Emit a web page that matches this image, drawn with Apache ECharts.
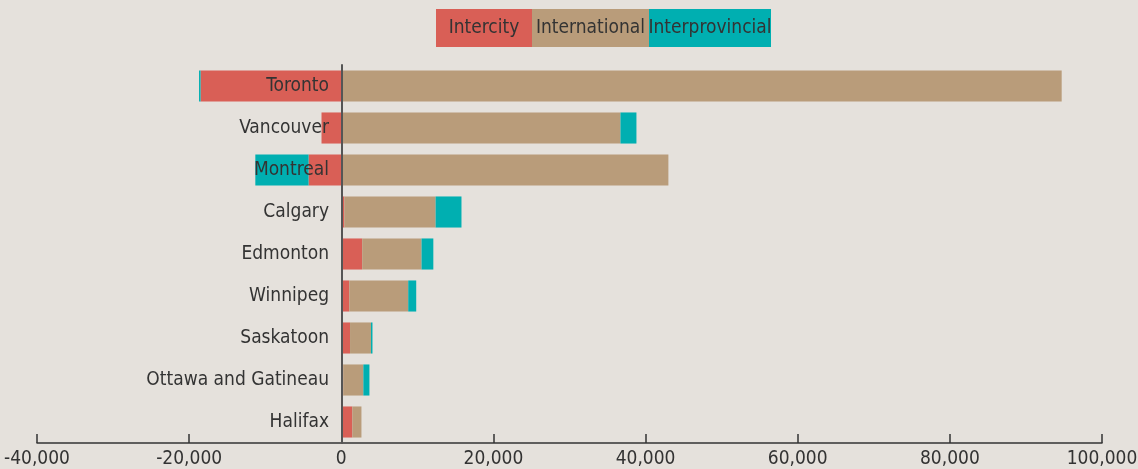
<!DOCTYPE html>
<html><head><meta charset="utf-8">
<style>html,body{margin:0;padding:0;background:#e5e1dc;}#c{width:1138px;height:469px;}</style>
<script src="https://cdn.jsdelivr.net/npm/echarts@6/dist/echarts.min.js"></script>
</head><body><div id="c"></div>
<script>
const categories = ["Toronto","Vancouver","Montreal","Calgary","Edmonton","Winnipeg","Saskatoon","Ottawa and Gatineau","Halifax"];
const intercity = [-18500,-2600,-4300,400,2750,1050,1150,250,1450];
const international = [94700,36700,43000,12000,7800,7750,2750,2650,1200];
const interprovincial = [-200,2100,-7000,3400,1550,1050,200,800,0];
const seriesNames = ["Intercity","International","Interprovincial"];
const colors = ["#d95f56","#b99c7a","#00afb1"];
const FONT = "'Liberation Sans Narrow','DejaVu Sans Condensed','Roboto Condensed',sans-serif";
const chart = echarts.init(document.getElementById('c'));
const legendWidths = [96,117,122];
const rich = {};
seriesNames.forEach((n,i)=>{ rich['s'+i] = {backgroundColor: colors[i], width: legendWidths[i], height: 38, lineHeight: 38, align: 'center', fontSize: 19, color: '#333', fontFamily: FONT}; });
chart.setOption({
  backgroundColor: '#e5e1dc',
  textStyle: {fontFamily: FONT},
  legend: {
    top: 4, left: 426, itemGap: -5, itemWidth: 0, itemHeight: 0, icon: 'rect',
    selectedMode: false,
    formatter: name => '{s' + seriesNames.indexOf(name) + '|' + name + '}',
    textStyle: {rich: rich},
    data: seriesNames
  },
  grid: {left: 37, right: 36, top: 65, bottom: 26, containLabel: false, outerBoundsMode: 'none'},
  xAxis: {
    type: 'value', min: -40000, max: 100000, interval: 20000,
    axisLine: {show: true, lineStyle: {color: '#333', width: 1.5}},
    axisTick: {show: true, inside: true, length: 9, lineStyle: {color: '#333', width: 1.5}},
    splitLine: {show: false},
    axisLabel: {color: '#333', fontSize: 19, margin: 7, fontFamily: FONT, formatter: v => v.toLocaleString('en-US')}
  },
  yAxis: {
    type: 'category', data: categories, inverse: true, z: 10,
    axisLine: {show: true, onZero: true, lineStyle: {color: '#555', width: 2}},
    axisTick: {show: false},
    axisLabel: {color: '#333', fontSize: 19, margin: -292, fontFamily: FONT}
  },
  series: [intercity, international, interprovincial].map((d,i)=>({
    name: seriesNames[i], type: 'bar', stack: 'total', data: d,
    barCategoryGap: '26%', itemStyle: {color: colors[i]}, animation: false
  }))
});
</script></body></html>
